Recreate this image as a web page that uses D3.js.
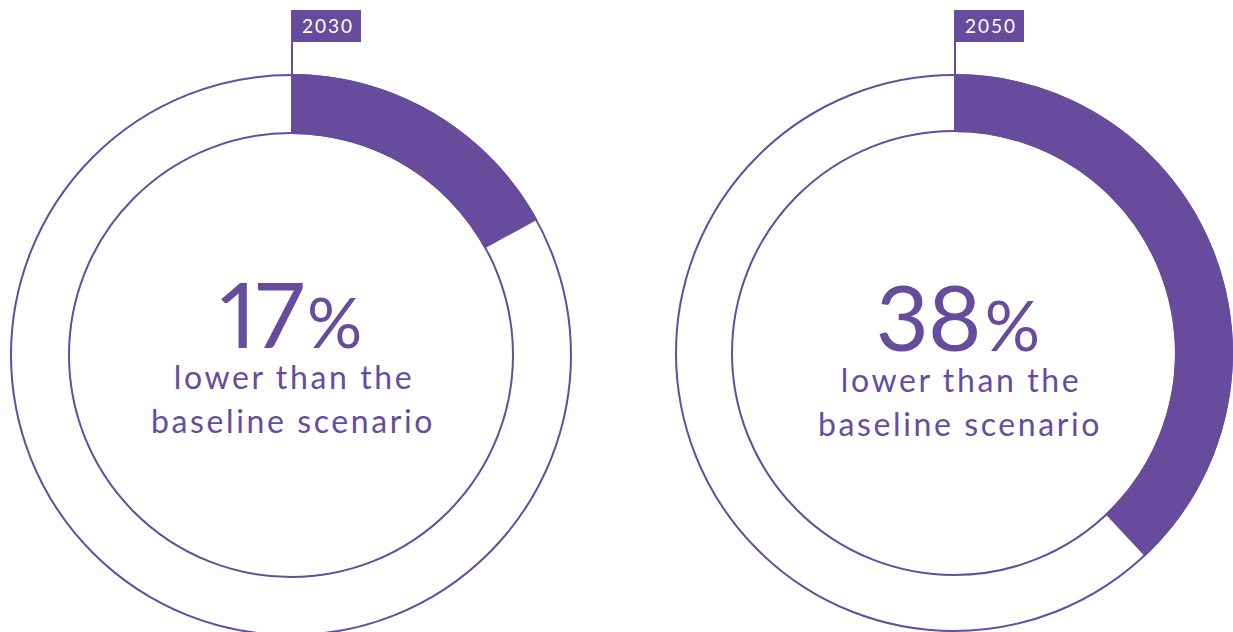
<!DOCTYPE html>
<html>
<head>
<meta charset="utf-8">
<script src="https://cdn.jsdelivr.net/npm/d3@7"></script>
<style>
  html, body { margin: 0; padding: 0; background: #ffffff; }
  svg { display: block; }
  text { font-family: "Lato", "Noto Sans", sans-serif; }
  .big { font-feature-settings: "pnum" 1; font-variant-numeric: proportional-nums; }
</style>
</head>
<body>
<svg id="chart" width="1233" height="632"></svg>
<script>
// ---- data ----
const years = ["2030", "2050"];
const values = [17, 38];              // % lower than baseline
const captionLine1 = ["lower than the", "lower than the"];
const captionLine2 = ["baseline scenario", "baseline scenario"];

// ---- layout ----
const purple = "#674c9d";
const centers = [{x: 291, y: 355}, {x: 954, y: 353}];
const textShift = [{dx: 0, dy: 0}, {dx: 4, dy: 5}];
const outerR = [280, 278];
const innerR = 222;

const svg = d3.select("#chart");
const angle = d3.scaleLinear().domain([0, 100]).range([0, 2 * Math.PI]);

values.forEach((v, i) => {
  const c = centers[i];
  const s = textShift[i];
  const g = svg.append("g").attr("transform", `translate(${c.x},${c.y})`);

  // ring outlines
  g.append("circle").attr("r", outerR[i]).attr("fill", "none")
    .attr("stroke", purple).attr("stroke-width", 2);
  g.append("circle").attr("r", innerR).attr("fill", "none")
    .attr("stroke", purple).attr("stroke-width", 2);

  // filled segment
  const arc = d3.arc()
    .innerRadius(innerR - 1)
    .outerRadius(outerR[i] + 1)
    .startAngle(angle(0))
    .endAngle(angle(v));
  g.append("path").attr("d", arc()).attr("fill", purple);

  // flag
  const flagTop = 10 - c.y, flagH = 32, flagW = 70;
  g.append("line")
    .attr("x1", 1).attr("x2", 1)
    .attr("y1", flagTop + flagH).attr("y2", -outerR[i])
    .attr("stroke", purple).attr("stroke-width", 2);
  g.append("rect")
    .attr("x", 0).attr("y", flagTop)
    .attr("width", flagW).attr("height", flagH)
    .attr("fill", purple);
  g.append("text")
    .attr("x", flagW / 2 + 2).attr("y", flagTop + 23)
    .attr("text-anchor", "middle")
    .attr("fill", "#fff")
    .attr("font-size", 19)
    .attr("letter-spacing", "2px")
    .text(years[i]);

  // central text
  const big = g.append("text")
    .attr("class", "big")
    .attr("x", s.dx).attr("y", -7 + s.dy)
    .attr("text-anchor", "middle")
    .attr("fill", purple);
  big.append("tspan").attr("font-size", 92).attr("font-weight", 400)
    .attr("letter-spacing", "-1px").text(v);
  big.append("tspan").attr("font-size", 69).attr("dx", 4).text("%");

  g.append("text")
    .attr("x", 3 + s.dx).attr("y", 34 + s.dy)
    .attr("text-anchor", "middle")
    .attr("fill", purple)
    .attr("font-size", 32)
    .attr("letter-spacing", "2.6px")
    .text(captionLine1[i]);
  g.append("text")
    .attr("x", 2 + s.dx).attr("y", 78 + s.dy)
    .attr("text-anchor", "middle")
    .attr("fill", purple)
    .attr("font-size", 32)
    .attr("letter-spacing", "2.6px")
    .text(captionLine2[i]);
});
</script>
</body>
</html>
